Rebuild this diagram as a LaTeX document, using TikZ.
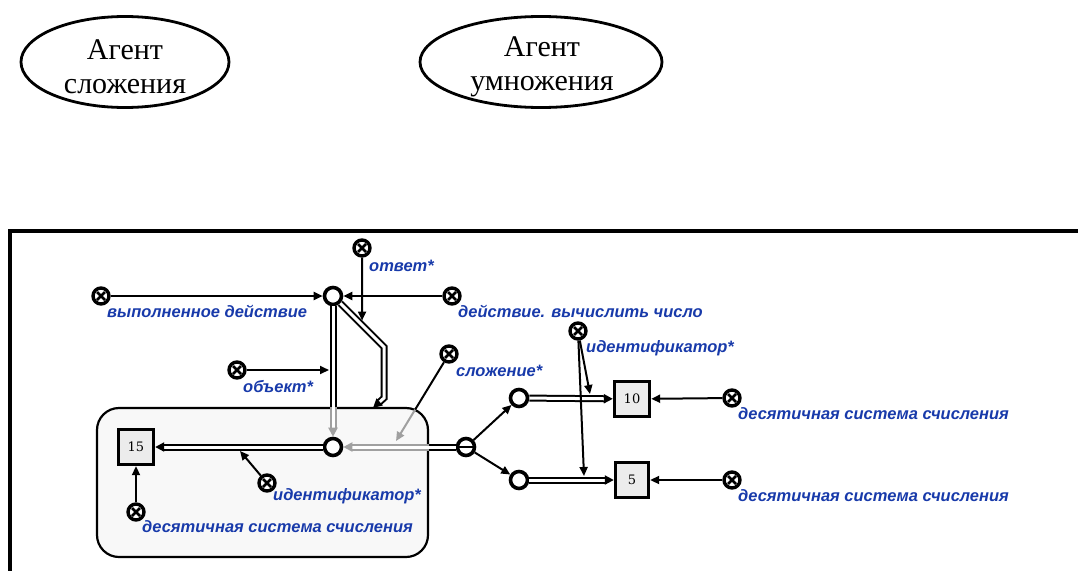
\documentclass[tikz,border=0pt]{standalone}
\usepackage{fontspec}
\setmainfont{Liberation Serif}
\newfontfamily\lblfont{Liberation Sans}
\newfontfamily\numfont{DejaVu Serif}
\usetikzlibrary{arrows.meta,calc,shapes.geometric}
\definecolor{scblue}{RGB}{24,58,170}
\definecolor{scgray}{RGB}{160,160,160}
\definecolor{boxfill}{RGB}{236,236,236}
\definecolor{contourfill}{RGB}{248,248,248}
\tikzset{
  agent/.style={ellipse, draw, line width=2.8pt, inner sep=0pt},
  agenttext/.style={align=center, inner sep=0pt,
    font=\fontsize{30}{34}\selectfont},
  scnode/.style={circle, draw, fill=white, line width=3.6pt,
    minimum size=17pt, inner sep=0pt},
  clsnode/.style={circle, draw, fill=white, line width=3.4pt,
    minimum size=16pt, inner sep=0pt,
    path picture={
      \draw[line width=2.6pt]
        ([shift={(-4pt,-4pt)}]path picture bounding box.center) --
        ([shift={(4pt,4pt)}]path picture bounding box.center)
        ([shift={(-4pt,4pt)}]path picture bounding box.center) --
        ([shift={(4pt,-4pt)}]path picture bounding box.center);}},
  tuplenode/.style={scnode,
    path picture={
      \draw[line width=2.6pt] (path picture bounding box.west) --
        (path picture bounding box.east);}},
  valbox/.style={rectangle, draw, line width=3.4pt, fill=boxfill,
    minimum size=35pt, inner sep=0pt, font=\numfont\fontsize{13}{13}\selectfont,
    path picture={
      \fill (path picture bounding box.north west) -- ++(8pt,0pt)
        -- ++(-8pt,-8pt) -- cycle;}},
  contour/.style={rectangle, draw, line width=2.2pt, fill=contourfill,
    rounded corners=22pt, minimum width=331pt, minimum height=149pt},
  arr/.style={line width=2pt, -{Triangle[length=9pt,width=8pt]}},
  plain/.style={line width=2pt},
  pair/.style={line width=2pt, double=white, double distance=3pt},
  gpair/.style={pair, draw=scgray},
  ptip/.style={-{Triangle[length=9pt,width=9pt]}},
  lbl/.style={font=\lblfont\fontsize{16.5}{18}\selectfont\bfseries\itshape,
    text=scblue, inner sep=0pt, anchor=base west},
}
\begin{document}
\begin{tikzpicture}[x=1pt,y=-1pt]
\useasboundingbox (0,0) rectangle (1078,570);

% agents
\node[agent, minimum width=208pt, minimum height=91pt] (addAgent) at (125,62) {};
\node[agenttext] (addAgentText) at (125,67) {Агент\\сложения};
\node[agent, minimum width=242pt, minimum height=91pt] (mulAgent) at (541,62) {};
\node[agenttext] (mulAgentText) at (542,67) {Агент\\умножения};

% frame of the semantic network
\draw[line width=3.4pt] (10,590) -- (10,231) -- (1090,231);

% contour of the answer
\node[contour] (ctr) at (262.5,482.5) {};

% nodes
\node[scnode] (act) at (333,296) {};
\node[clsnode] (vd) at (101,296) {};
\node[clsnode] (dv) at (452,296) {};
\node[clsnode] (otv) at (362,248) {};
\node[clsnode] (obj) at (237,370) {};
\node[scnode] (inner) at (333,447) {};
\node[valbox] (box15) at (136,447) {15};
\node[clsnode] (id1) at (267,483) {};
\node[clsnode] (dec1) at (136,512) {};
\node[tuplenode] (tup) at (466,447) {};
\node[clsnode] (slo) at (449,354) {};
\node[scnode] (c10) at (519,398) {};
\node[scnode] (c5) at (519,480) {};
\node[valbox] (box10) at (632,399) {10};
\node[valbox, minimum width=33pt] (box5) at (632,480) {5};
\node[clsnode] (id2) at (578,331) {};
\node[clsnode] (dec2) at (732,398) {};
\node[clsnode] (dec3) at (732,480) {};

% labels
\node[lbl] (lvd) at (107,317) {выполненное действие};
\node[lbl] (lotv) at (369,271) {ответ*};
\node[lbl] (ldv) at (458,317) {действие. вычислить число};
\node[lbl] (lobj) at (243,392) {объект*};
\node[lbl] (lslo) at (456,376) {сложение*};
\node[lbl] (lid2) at (586,352) {идентификатор*};
\node[lbl] (lid1) at (273,500) {идентификатор*};
\node[lbl] (ldec1) at (142,532) {десятичная система счисления};
\node[lbl] (ldec2) at (738,419) {десятичная система счисления};
\node[lbl] (ldec3) at (738,501) {десятичная система счисления};

% helper points
\coordinate (bend1) at (384,347);
\coordinate (bend2) at (384,398);
\coordinate (sloTip) at (396,441);

% arcs into the action node
\draw[arr] (vd) -- (act);
\draw[arr] (dv) -- (act);

% result pair towards the contour
\draw[pair, ptip] (act.south east) -- (bend1) -- (bend2) -- ($(ctr.north)+(110.5,1)$);
\draw[arr] (otv) -- ($(act)!0.57!(bend1)+(0,-4.5)$);

% object pair towards the sum node
\draw[pair] (act) -- (act |- ctr.north);
\draw[gpair, ptip] (act |- ctr.north) -- (inner);
\draw[arr] (obj) -- ($(obj -| act)+(-4,0)$);

% identifier of the sum
\draw[pair, ptip] (inner) -- (box15);
\draw[arr] (id1) -- ($(inner)!0.472!(box15)+(0,4)$);
\draw[arr] (dec1) -- (box15);

% addition tuple
\draw[pair] (tup) -- (ctr.east |- tup);
\draw[gpair, ptip] (ctr.east |- tup) -- (inner);
\draw[plain] (slo) -- ($(slo)!0.64!(sloTip)$);
\draw[line width=2pt, draw=scgray, -{Triangle[length=9pt,width=8pt]}]
  ($(slo)!0.64!(sloTip)$) -- (sloTip);

\draw[arr] (tup) -- (c10);
\draw[arr] (tup) -- (c5);

% operands
\draw[pair, ptip] (c10) -- (box10);
\draw[pair, ptip] (c5) -- (box5);
\draw[arr] (id2) -- (590,394);
\draw[arr] (id2) -- (584,476);
\draw[arr] (dec2) -- (box10);
\draw[arr] (dec3) -- (box5);
\end{tikzpicture}
\end{document}
